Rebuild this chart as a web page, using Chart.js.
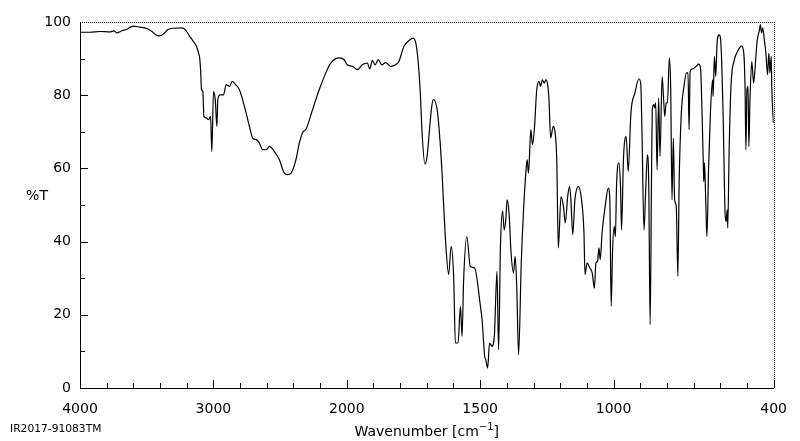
<!DOCTYPE html>
<html>
<head>
<meta charset="utf-8">
<script src="https://cdn.jsdelivr.net/npm/chart.js@4"></script>
<style>
  body { margin: 0; background: #fff; }
  canvas { display: block; }
</style>
</head>
<body>
<canvas id="irChart" width="800" height="441"></canvas>
<script>
// wavenumber (cm-1) and transmittance (%T)
const wavenumbers = [
  4000, 3925, 3851, 3776, 3746, 3724, 3686, 3649, 3604, 3552, 3499, 3462, 3432, 3402, 3372, 3342,
  3305, 3238, 3208, 3178, 3148, 3126, 3111, 3103, 3096, 3089, 3079, 3071, 3053, 3036, 3021, 3012,
  2999, 2986, 2974, 2967, 2949, 2924, 2904, 2879, 2859, 2834, 2805, 2767, 2730, 2705, 2675, 2655,
  2630, 2605, 2580, 2543, 2506, 2468, 2444, 2418, 2381, 2356, 2332, 2302, 2257, 2207, 2157, 2119,
  2057, 2020,
  1998, 1979, 1960, 1942, 1923, 1914, 1904, 1894, 1882, 1869, 1854, 1836, 1817, 1805, 1786, 1767,
  1752, 1740, 1730, 1724, 1718, 1707, 1699, 1690, 1683, 1676, 1670, 1661, 1651, 1643, 1630, 1618,
  1609, 1599, 1593, 1583, 1574, 1568, 1562, 1550, 1537, 1521, 1499, 1493, 1483, 1479, 1472, 1465,
  1456, 1447, 1437, 1431, 1424, 1416, 1410, 1404, 1399, 1391, 1385, 1375, 1369, 1363, 1356, 1346,
  1338, 1329, 1324, 1319, 1310, 1304, 1297, 1288, 1279, 1274, 1267, 1260, 1254, 1247, 1242, 1236,
  1226, 1219, 1213, 1207, 1197, 1188, 1181, 1172, 1165, 1160, 1153, 1145, 1132, 1120, 1111, 1107,
  1099, 1089, 1080, 1072, 1066, 1060, 1055, 1050, 1043, 1030, 1020, 1014, 1009, 1004, 998, 993,
  989, 980, 974, 970, 963, 953, 945, 935, 920, 905, 898, 893, 886, 879, 873, 868,
  863, 858, 855, 849, 846, 842, 837, 831, 826, 818, 813, 808, 803, 798, 791, 786,
  781, 776, 771, 765, 759, 754, 746, 736, 727, 721, 717, 713, 703, 690, 681, 674,
  669, 664, 662, 659, 654, 650, 644, 637, 629, 627, 622, 617, 612, 604, 597, 589,
  582, 578, 574, 572, 567, 560, 547, 535, 520, 512, 507, 504, 500, 496, 493, 489,
  482, 475, 470, 462, 453, 450, 445, 441, 435, 429, 423, 418, 414, 409, 407, 401
];
const transmittance = [
  97.2, 97.2, 97.4, 97.3, 97.6, 97.0, 97.6, 98.0, 98.9, 98.6, 98.2, 97.5, 96.5, 96.2, 96.8, 97.9,
  98.3, 98.4, 97.8, 96.1, 94.6, 93.3, 91.5, 90.2, 87.0, 81.5, 81.0, 74.2, 73.8, 73.3, 74.2, 64.6,
  81.0, 78.8, 71.5, 78.8, 80.1, 80.1, 82.9, 82.4, 83.8, 82.9, 81.5, 76.9, 71.5, 68.3, 67.8, 66.9,
  65.1, 65.1, 66.0, 64.6, 62.4, 58.7, 58.3, 58.7, 62.4, 66.9, 69.7, 71.0, 76.0, 81.5, 86.1, 88.8,
  90.2, 89.7,
  88.3, 87.9, 87.0, 88.3, 88.8, 87.2, 89.5, 88.3, 89.7, 88.3, 88.9, 87.9, 88.3, 89.2, 93.3, 94.9,
  95.6, 93.8, 87.0, 80.0, 70.0, 61.2, 63.3, 70.6, 76.0, 78.8, 78.5, 76.0, 68.0, 58.8, 40.5, 31.0,
  38.7, 29.6, 12.3, 12.3, 22.3, 14.1, 29.6, 41.4, 33.2, 32.8, 22.3, 18.7, 8.6, 7.7, 5.5, 12.3,
  11.4, 14.1, 31.9, 10.5, 38.7, 48.3, 43.2, 46.0, 51.4, 46.9, 37.8, 31.4, 36.0, 27.8, 9.1, 34.2,
  47.8, 58.7, 62.4, 58.7, 70.6, 66.5, 70.6, 81.5, 83.8, 82.4, 84.2, 83.3, 84.2, 82.9, 78.8, 68.3,
  71.5, 69.7, 62.4, 38.3, 52.3, 49.6, 45.1, 52.3, 55.1, 51.4, 41.9, 51.4, 55.1, 51.4, 42.4, 31.0,
  34.2, 32.8, 31.4, 27.3, 34.2, 34.6, 38.3, 35.1, 42.4, 50.5, 54.6, 51.4, 22.3, 36.9, 44.2, 41.4,
  55.1, 61.5, 55.1, 43.2, 62.4, 68.7, 59.2, 75.1, 80.6, 84.5, 83.0, 67.8, 43.2, 55.1, 63.7, 55.1,
  17.3, 55.1, 76.0, 77.4, 76.5, 77.9, 59.6, 79.2, 63.3, 85.1, 79.7, 74.2, 77.9, 77.9, 90.2, 82.4,
  51.4, 68.3, 51.4, 49.6, 30.5, 56.9, 75.1, 82.4, 86.1, 86.1, 70.6, 86.5, 87.2, 87.9, 88.5, 87.4,
  76.9, 62.4, 56.4, 61.5, 49.6, 41.4, 59.6, 75.1, 84.2, 79.7, 90.6, 85.1, 94.3, 96.5, 93.3, 73.3,
  47.8, 45.5, 48.7, 43.7, 64.2, 82.4, 89.7, 92.0, 93.5, 91.5, 81.5, 65.1, 81.5, 82.4, 66.0, 77.9,
  89.2, 83.3, 87.0, 94.7, 97.9, 99.3, 97.0, 98.4, 95.2, 91.5, 85.6, 91.5, 86.1, 90.6, 82.4, 72.4
];

const xTickLabels = [4000, 3000, 2000, 1500, 1000, 400];
const yTickLabels = [0, 20, 40, 60, 80, 100];

// split x axis: 4000-2000 at half the scale of 2000-400
function toAxis(w) {
  return w >= 2000 ? 4000 - w : 2000 + 2 * (2000 - w);
}
function fromAxis(u) {
  return u <= 2000 ? 4000 - u : 2000 - (u - 2000) / 2;
}

const xMinor = [];
for (let w = 4000; w > 2000; w -= 200) xMinor.push(w);
for (let w = 2000; w >= 400; w -= 100) xMinor.push(w);

const points = wavenumbers.map((w, i) => ({ x: toAxis(w), y: transmittance[i] }));

const fontFamily = "'DejaVu Sans', sans-serif";

const framePlugin = {
  id: "frame",
  afterDraw(chart) {
    const ctx = chart.ctx;
    const area = chart.chartArea;
    const xs = chart.scales.x;
    const ys = chart.scales.y;
    ctx.save();
    ctx.strokeStyle = "#000";
    ctx.lineWidth = 1;

    // inward tick marks
    ctx.beginPath();
    for (const w of xMinor) {
      const px = Math.round(xs.getPixelForValue(toAxis(w))) + 0.5;
      const len = xTickLabels.includes(w) ? 8 : 5;
      ctx.moveTo(px, area.bottom);
      ctx.lineTo(px, area.bottom - len);
    }
    for (let v = 10; v < 100; v += 10) {
      const py = Math.round(ys.getPixelForValue(v)) + 0.5;
      const len = v % 20 === 0 ? 8 : 5;
      ctx.moveTo(area.left, py);
      ctx.lineTo(area.left + len, py);
    }
    ctx.stroke();

    // dotted top and right edges
    ctx.setLineDash([1, 1]);
    ctx.beginPath();
    ctx.moveTo(area.left, Math.round(area.top) + 0.5);
    ctx.lineTo(area.right, Math.round(area.top) + 0.5);
    ctx.moveTo(Math.round(area.right) + 0.5, area.top);
    ctx.lineTo(Math.round(area.right) + 0.5, area.bottom);
    ctx.stroke();
    ctx.setLineDash([]);

    ctx.fillStyle = "#000";
    ctx.font = "14px " + fontFamily;
    ctx.textAlign = "center";
    ctx.textBaseline = "middle";
    ctx.fillText("%T", 37, 196);

    // axis title with a raised -1
    ctx.textBaseline = "alphabetic";
    ctx.textAlign = "left";
    const main = "Wavenumber [cm";
    const sup = "\u22121";
    ctx.font = "14px " + fontFamily;
    const w1 = ctx.measureText(main).width;
    const w3 = ctx.measureText("]").width;
    ctx.font = "10px " + fontFamily;
    const w2 = ctx.measureText(sup).width;
    let tx = (area.left + area.right) / 2 - (w1 + w2 + w3) / 2;
    const baseY = 436;
    ctx.font = "14px " + fontFamily;
    ctx.fillText(main, tx, baseY);
    tx += w1;
    ctx.font = "10px " + fontFamily;
    ctx.fillText(sup, tx, baseY - 6);
    tx += w2;
    ctx.font = "14px " + fontFamily;
    ctx.fillText("]", tx, baseY);

    ctx.font = "10.7px " + fontFamily;
    ctx.fillText("IR2017-91083TM", 10, 432);
    ctx.restore();
  }
};

new Chart(document.getElementById("irChart"), {
  type: "line",
  data: {
    datasets: [{
      data: points,
      borderColor: "#000",
      borderWidth: 1.2,
      pointRadius: 0,
      fill: false,
      cubicInterpolationMode: "monotone"
    }]
  },
  options: {
    responsive: false,
    animation: false,
    devicePixelRatio: 1,
    layout: { padding: { left: 0, right: 24, top: 22, bottom: 0 } },
    plugins: {
      legend: { display: false },
      tooltip: { enabled: false }
    },
    scales: {
      x: {
        type: "linear",
        min: 0,
        max: 5200,
        grid: { display: false, drawTicks: false },
        border: { display: true, color: "#000", width: 1 },
        afterBuildTicks: (scale) => {
          scale.ticks = xTickLabels.map(w => ({ value: toAxis(w) }));
        },
        afterFit: (scale) => { scale.height = 53; },
        ticks: {
          color: "#000",
          padding: 13,
          maxRotation: 0,
          autoSkip: false,
          font: { family: fontFamily, size: 14 },
          callback: (value) => String(Math.round(fromAxis(value)))
        }
      },
      y: {
        min: 0,
        max: 100,
        grid: { display: false, drawTicks: false },
        border: { display: true, color: "#000", width: 1 },
        afterBuildTicks: (scale) => {
          scale.ticks = yTickLabels.map(v => ({ value: v }));
        },
        afterFit: (scale) => { scale.width = 80; },
        ticks: {
          color: "#000",
          padding: 9,
          font: { family: fontFamily, size: 14 }
        }
      }
    }
  },
  plugins: [framePlugin]
});
</script>
</body>
</html>
